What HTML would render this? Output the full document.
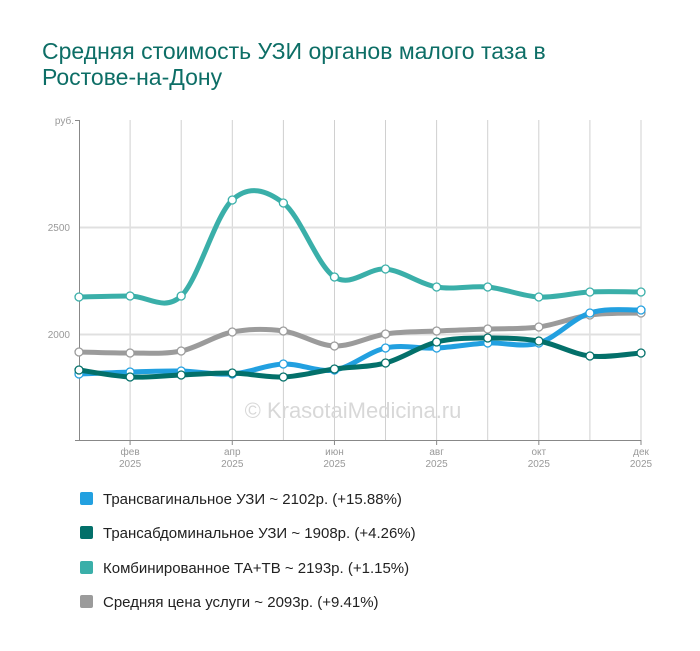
<!DOCTYPE html>
<html><head><meta charset="utf-8"><style>
body{margin:0;background:#fff;width:700px;height:651px;overflow:hidden;font-family:"Liberation Sans",sans-serif}
h1{position:absolute;left:42px;top:38px;margin:0;font-weight:normal;font-size:23px;line-height:26px;color:#0d6e66;width:600px}
.lg{position:absolute;left:80px;font-size:15px;color:#222}
.lg i{display:inline-block;width:13px;height:13px;border-radius:2px;margin-right:10px;vertical-align:-1px}
</style></head><body>
<h1>Средняя стоимость УЗИ органов малого таза в Ростове-на-Дону</h1>
<svg width="700" height="651" style="position:absolute;left:0;top:0" id="s" font-family="Liberation Sans, sans-serif">
<g stroke="#d0d0d0" stroke-width="1" id="vg"></g>
<line x1="79" x2="641" y1="227.5" y2="227.5" stroke="#e0e0e0" stroke-width="2"/>
<line x1="79" x2="641" y1="334.5" y2="334.5" stroke="#e0e0e0" stroke-width="2"/>
<line x1="79.5" x2="79.5" y1="120" y2="440" stroke="#888"/>
<line x1="75" x2="641" y1="440.5" y2="440.5" stroke="#888"/>
<line x1="75" x2="79" y1="120.5" y2="120.5" stroke="#888"/>
<g font-size="10" fill="#999" text-anchor="end">
<text x="74" y="124">руб.</text><text x="70" y="231">2500</text><text x="70" y="338">2000</text></g>
<g font-size="10" fill="#999" text-anchor="middle" id="xl"></g>
<text x="353" y="418" font-size="22" fill="#d8d8d8" text-anchor="middle">© KrasotaiMedicina.ru</text>
<g id="ln"></g>
</svg>
<div class="lg" style="top:491px"><i style="background:#22a0e0"></i>Трансвагинальное УЗИ ~ 2102р. (+15.88%)</div>
<div class="lg" style="top:525px"><i style="background:#03706a"></i>Трансабдоминальное УЗИ ~ 1908р. (+4.26%)</div>
<div class="lg" style="top:560px"><i style="background:#3aafa9"></i>Комбинированное ТА+ТВ ~ 2193р. (+1.15%)</div>
<div class="lg" style="top:594px"><i style="background:#9b9b9b"></i>Средняя цена услуги ~ 2093р. (+9.41%)</div>
<script>
var X=[];for(var i=0;i<12;i++)X.push(79+i*562/11);
var ns="http://www.w3.org/2000/svg";
function el(t,a,p){var e=document.createElementNS(ns,t);for(var k in a)e.setAttribute(k,a[k]);p.appendChild(e);return e;}
var vg=document.getElementById('vg'),xl=document.getElementById('xl');
var m=['фев','апр','июн','авг','окт','дек'];
for(var i=1;i<12;i++){el('line',{x1:X[i].toFixed(1),x2:X[i].toFixed(1),y1:120,y2:440},vg);}
for(var j=0;j<6;j++){var x=X[2*j+1];el('line',{x1:x,x2:x,y1:440,y2:445,stroke:'#888'},document.getElementById('s'));
var t=el('text',{x:x,y:455},xl);t.textContent=m[j];var t2=el('text',{x:x,y:467},xl);t2.textContent='2025';}
var S=[
['#3aafa9',[297,296,296,200,203,277,269,287,287,297,292,292]],
['#9b9b9b',[352,353,351,332,331,346,334,331,329,327,315,313]],
['#22a0e0',[374,372,371,374,364,370,348,348,343,343,313,310]],
['#03706a',[370,377,375,373,377,369,363,342,338,341,356,353]]];
var ln=document.getElementById('ln');
S.forEach(function(s){var Y=s[1],d='M'+X[0]+','+Y[0];
for(var i=0;i<11;i++){var p0=i?i-1:0,p3=i<10?i+2:11;
var c1x=X[i]+(X[i+1]-X[p0])/6,c1y=Y[i]+(Y[i+1]-Y[p0])/6,c2x=X[i+1]-(X[p3]-X[i])/6,c2y=Y[i+1]-(Y[p3]-Y[i])/6;
d+='C'+c1x+','+c1y+' '+c2x+','+c2y+' '+X[i+1]+','+Y[i+1];}
el('path',{d:d,fill:'none',stroke:s[0],'stroke-width':5,'stroke-linecap':'round'},ln);
for(var i=0;i<12;i++)el('circle',{cx:X[i],cy:Y[i],r:4,fill:'#fff',stroke:s[0],'stroke-width':1.3},ln);});
</script>
</body></html>
